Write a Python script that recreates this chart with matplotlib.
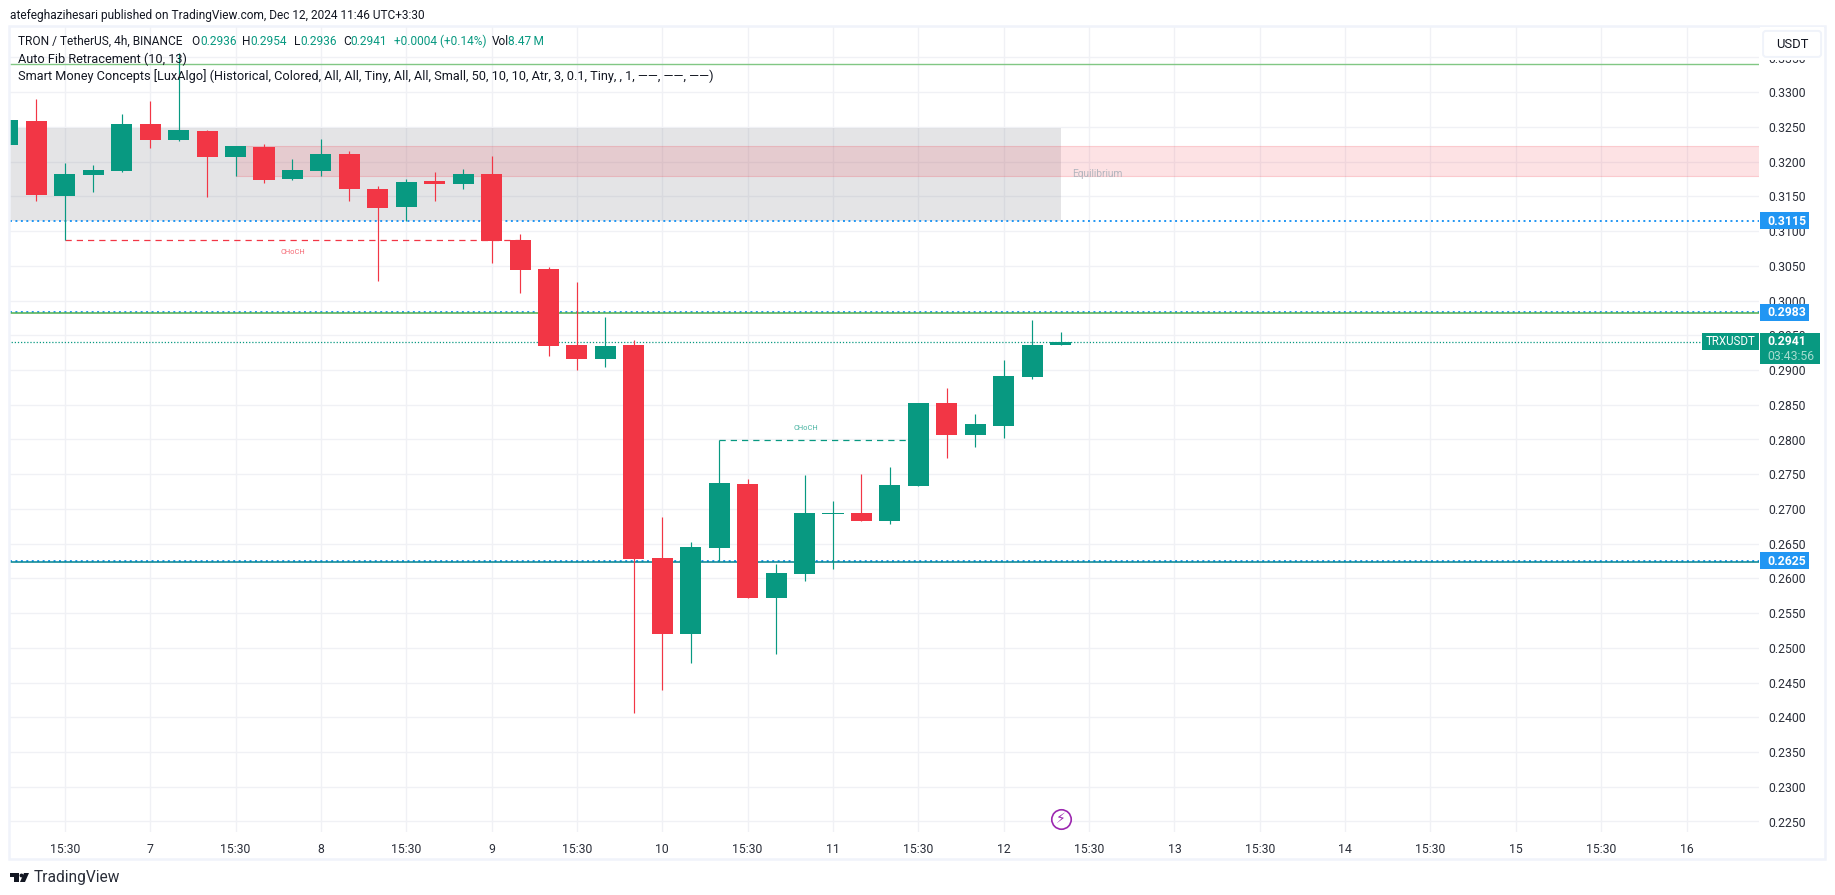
import matplotlib
matplotlib.use('Agg')
import matplotlib.pyplot as plt
from matplotlib.patches import Rectangle, Polygon, FancyBboxPatch

plt.rcParams['font.family'] = ['Roboto', 'DejaVu Sans']

W, H = 1835, 895

# OHLC, one bar per 4h
opens  = [.3224, .32587, .31507, .31809, .31867, .32543, .32313, .32443, .32068, .32212, .31751, .31867, .32111, .31607, .31348, .31723,
          .31679, .31823, .30873, .30455, .29361, .29159, .29361, .26293, .25199, .26438, .27359, .25717, .26064, .26925, .26942, .26826,
          .27331, .28526, .28065, .28194, .28900, .2936]
highs  = [.3260, .32904, .31982, .31953, .32688, .32875, .33562, .32457, .32227, .32255, .32039, .32327, .32155, .31651, .31751, .31852,
          .31895, .32083, .30959, .30484, .30268, .29764, .29433, .26884, .26524, .27993, .27431, .26207, .27489, .27114, .27503, .27604,
          .28526, .28742, .28367, .29145, .29721, .2954]
lows   = [.3224, .31435, .30873, .31564, .31852, .32198, .32299, .31492, .31795, .31694, .31737, .31795, .31435, .30283, .31147, .31435,
          .31607, .30542, .3011, .29202, .29001, .29044, .24061, .24393, .24781, .2625, .25717, .24911, .25962, .26135, .26826, .26783,
          .27331, .27734, .27892, .28022, .28871, .2936]
closes = [.3260, .31521, .31823, .31881, .32543, .32313, .32457, .32068, .32227, .31737, .31881, .32111, .31607, .31334, .31708, .31679,
          .31823, .30859, .30441, .29347, .29159, .29347, .26279, .25199, .26452, .27374, .25717, .26078, .26942, .26942, .26826, .27345,
          .28526, .28065, .28223, .28914, .29361, .2941]

price_ticks = [.335, .33, .325, .32, .315, .31, .305, .30, .295, .29, .285, .28, .275, .27, .265, .26, .255, .25, .245, .24, .235, .23, .225]
time_pos = list(range(2, 60, 3))
time_labels = ['15:30', '7', '15:30', '8', '15:30', '9', '15:30', '10', '15:30', '11', '15:30', '12',
               '15:30', '13', '15:30', '14', '15:30', '15', '15:30', '16']

green, red, blue = '#089981', '#f23645', '#2196f3'
txt = '#131722'
grid = '#f0f3fa'

level_blue = [.3115, .2983, .2625]
level_top = .33403
level_green = .29815
level_teal = .26235
last_price = .2941

# small extra so the saved height does not floor to 894
fig = plt.figure(figsize=((W + .1) / 100, (H + .1) / 100), dpi=100, facecolor='white')

# price pane in pixel placement
L, R, T, B = 10, 1759, 27, 832
XMIN, XMAX = .072, 61.55
ax = fig.add_axes([L / W, 1 - B / H, (R - L) / W, (B - T) / H])
ax.set_xlim(XMIN, XMAX)
ax.set_ylim(.22348, .3394)
for s in ax.spines.values():
    s.set_visible(False)
ax.yaxis.tick_right()
ax.set_yticks(price_ticks, [f'{p:.4f}' for p in price_ticks])
ax.set_xticks(time_pos, time_labels)
ax.tick_params(length=0, labelsize=8.8, labelcolor='#2a2e39')
ax.tick_params(axis='y', pad=6.5)
ax.tick_params(axis='x', pad=8)
ax.grid(True, color='#f0f1f5', lw=1.0)
ax.set_axisbelow(True)

# zones
ax.axhspan(.3115, .3248, xmin=0, xmax=(37 - XMIN) / (XMAX - XMIN), color='#787b86', alpha=.2, lw=0, zorder=1)
ax.add_patch(Rectangle((8, .318), 60, .0043, fc=(242 / 255, 54 / 255, 69 / 255, .14), ec=(242 / 255, 54 / 255, 69 / 255, .2), lw=.8, zorder=1))
ax.text(37.42, .3182, 'Equilibrium', color='#b2b5be', fontsize=7.3, va='center', ha='left')

# levels
for p in level_blue:
    ax.axhline(p, color=blue, lw=1.4, ls=(0, (1, 1.8)), zorder=2)
ax.axhline(level_top, color='#81c784', lw=1.0, zorder=2.2)
ax.axhline(level_green, color='#4caf50', lw=1.1, zorder=2.2)
ax.axhline(level_teal, color='#00838f', lw=1.1, zorder=2.2)
ax.plot([0, 59.6], [last_price, last_price], color=green, lw=.9, ls=(0, (1, 1.5)), zorder=2)

# CHoCH markers
ax.plot([2, 18], [.30873, .30873], color=red, lw=.9, ls=(0, (5, 4)), zorder=2.5)
ax.text(10, .3069, 'CHoCH', color=red, alpha=.75, fontsize=5.4, ha='center', va='center')
ax.plot([25, 32], [.27993, .27993], color=green, lw=.9, ls=(0, (5, 4)), zorder=2.5)
ax.text(28.05, .28166, 'CHoCH', color=green, alpha=.75, fontsize=5.4, ha='center', va='center')

# candles
for i, (o, h, l, c) in enumerate(zip(opens, highs, lows, closes)):
    col = green if c >= o else red
    ax.vlines(i, l, h, color=col, lw=.85, zorder=3)
    ax.bar(i, abs(c - o), bottom=min(o, c), width=.74, color=col, lw=0, zorder=3)

# lightning badge
ax.plot([37], [.2253], marker='o', ms=14, mfc='white', mec='#9c27b0', mew=1.2, zorder=5, clip_on=False)
ax.text(37, .2253, '\u26a1', color='#9c27b0', fontsize=10, ha='center', va='center', family='DejaVu Sans', zorder=6)


# overlay in image pixels for header, tags and frame
ov = fig.add_axes([0, 0, 1, 1], facecolor='none')
ov.set_xlim(0, W)
ov.set_ylim(H, 0)
ov.axis('off')


def ypix(p):
    return B - (p - .22348) / (.3394 - .22348) * (B - T)


ov.add_patch(Rectangle((9, 26), 1816, 833, fc='none', ec=grid, lw=1.8))

ov.text(10, 15, 'atefeghazihesari published on TradingView.com, Dec 12, 2024 11:46 UTC+3:30', color=txt, fontsize=8.6, va='center')
row1 = [(18, 'TRON / TetherUS, 4h, BINANCE', txt), (191.5, 'O', txt), (200, '0.2936', green), (242.4, 'H', txt), (250.6, '0.2954', green),
        (294, 'L', txt), (300.5, '0.2936', green), (343, 'C', txt), (350, '0.2941', green), (393.6, '+0.0004 (+0.14%)', green),
        (492, 'Vol', txt), (508, '8.47\u2009M', green)]
for x, s, col in row1:
    ov.text(x, 41.7, s, color=col, fontsize=8.6, va='center')
ov.text(18, 59, 'Auto Fib Retracement (10, 13)', color=txt, fontsize=9.2, va='center')
ov.text(18, 76, 'Smart Money Concepts [LuxAlgo] (Historical, Colored, All, All, Tiny, All, All, Small, 50, 10, 10, Atr, 3, 0.1, Tiny, , 1, \u2014\u2014, \u2014\u2014, \u2014\u2014)',
        color=txt, fontsize=9.2, va='center')

# USDT button, white behind it hides most of the top price label
ov.add_patch(Rectangle((1760, 27), 64, 33, fc='white', ec='none', zorder=4))
ov.add_patch(FancyBboxPatch((1765, 33), 54, 22, boxstyle='round,pad=2,rounding_size=3', fc='white', ec=grid, lw=1.4, zorder=5))
ov.text(1792, 44, 'USDT', color=txt, fontsize=9.4, ha='center', va='center', zorder=6)


def tag(p, s):
    y = ypix(p)
    ov.add_patch(Rectangle((1760, y - 8.5), 49, 17, fc=blue, ec='none', zorder=5))
    ov.text(1767.5, y + .3, s, color='white', fontsize=8.8, fontweight='bold', va='center', zorder=6)


for p in level_blue:
    tag(p, f'{p:.4f}')

y0 = ypix(last_price)
ov.add_patch(Rectangle((1702, y0 - 8.5), 57, 17, fc=green, ec='none', zorder=5))
ov.text(1730.5, y0 + .3, 'TRXUSDT', color='white', fontsize=8.3, ha='center', va='center', zorder=6)
ov.add_patch(Rectangle((1760, y0 - 8.5), 60, 31, fc=green, ec='none', zorder=5))
ov.text(1767.5, y0 + .3, '0.2941', color='white', fontsize=8.8, fontweight='bold', va='center', zorder=6)
ov.text(1767.5, y0 + 14.5, '03:43:56', color='#a5dccf', fontsize=8.8, va='center', zorder=6)

# TradingView mark
ov.add_patch(Polygon([(10, 873), (18.5, 873), (18.5, 882), (14, 882), (14, 877), (10, 877)], fc=txt, ec='none'))
ov.add_patch(Polygon([(24, 873), (29, 873), (25, 882), (20, 882)], fc=txt, ec='none'))
ov.plot([21], [875], marker='o', ms=2.8, color=txt, mew=0)
ov.text(34, 877, 'TradingView', color='#2a2e39', fontsize=11.2, va='center')

fig.savefig('out.png', dpi=100)
